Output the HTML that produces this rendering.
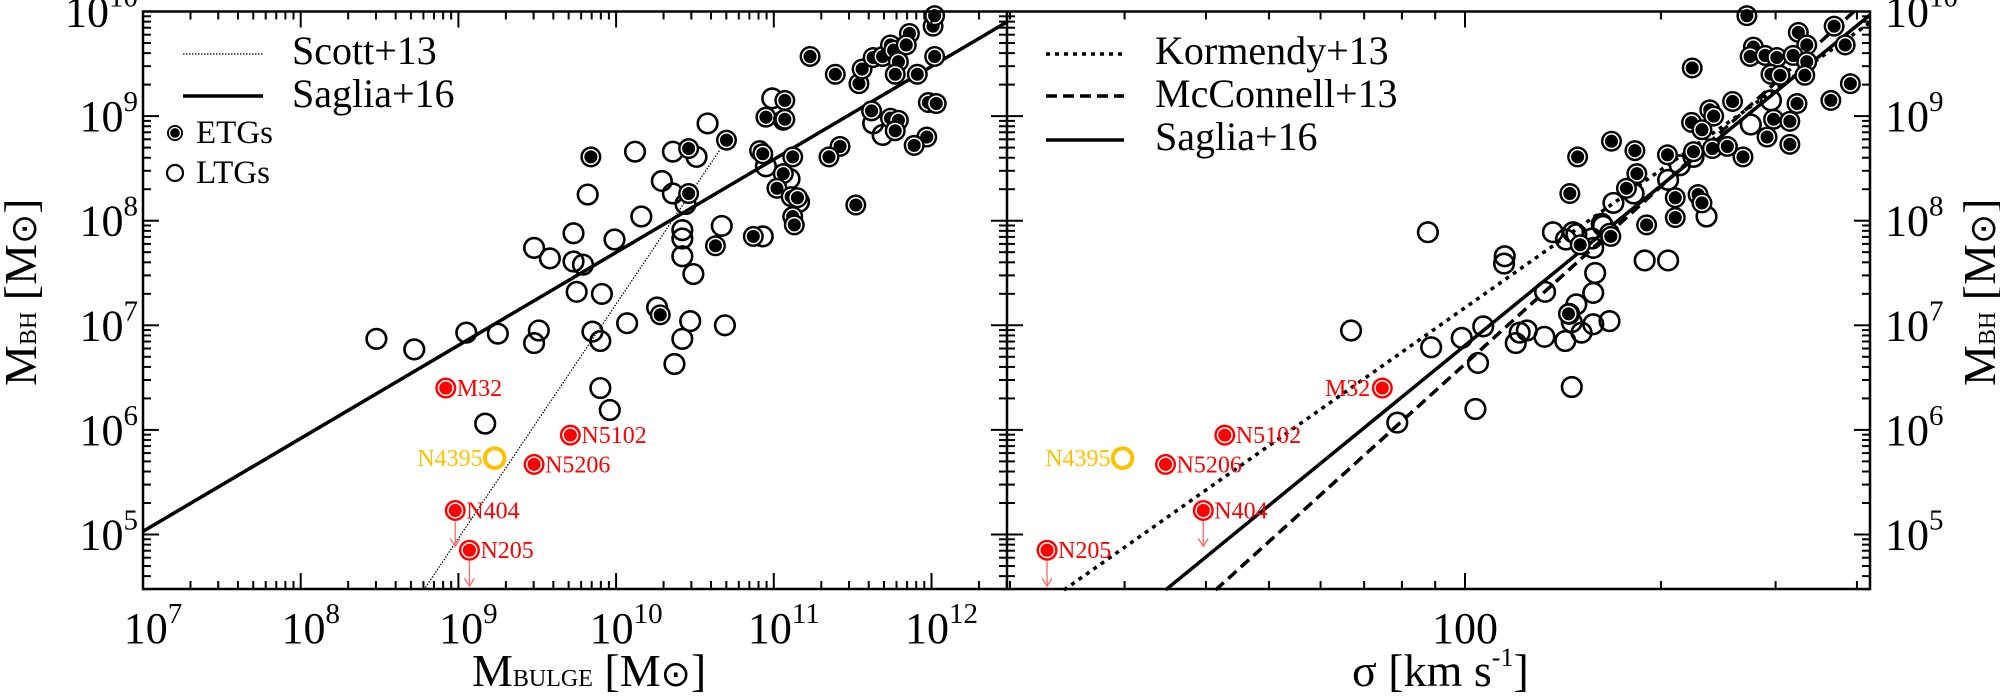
<!DOCTYPE html>
<html><head><meta charset="utf-8"><style>
html,body{margin:0;padding:0;background:#fff;width:2000px;height:698px;overflow:hidden;position:relative}
svg{display:block}
text{font-family:"Liberation Serif","DejaVu Serif",serif;fill:#000}
</style></head><body>
<svg id="fig" width="2000" height="698" viewBox="0 0 2000 698" xmlns="http://www.w3.org/2000/svg" style="position:absolute;left:0;top:0">
<defs>
<clipPath id="clipL"><rect x="143" y="11.5" width="864" height="577.5"/></clipPath>
<clipPath id="clipR"><rect x="1007" y="11.5" width="863" height="577.5"/></clipPath>
<marker id="arr" markerWidth="12" markerHeight="12" refX="9" refY="5" orient="auto" markerUnits="userSpaceOnUse"><path d="M1,0 L9,5 L1,10" fill="none" stroke="#f66" stroke-width="1.3"/></marker>
</defs>
<g id="gL"></g>
<g id="gR"></g>
<g id="gAx"></g>
</svg>
<script>
// ---- data (log10 values) ----
const leftEtgLogM = [11.23,11.39,11.54,11.56,11.63,11.69,11.74,11.76,11.79,11.77,11.86,11.84,11.91,12.01,12.02,12.02,11.98,12.03,11.07,10.95,11.06,11.07,11.62,11.74,11.79,11.77,11.97,11.89,10.46,10.70,10.91,10.93,11.12,11.42,11.35,11.06,11.02,11.11,11.15,11.12,11.13,11.52,10.46,10.87,10.63,9.84,10.28];
const leftEtgLogBH = [9.57,9.40,9.31,9.45,9.56,9.57,9.68,9.63,9.52,9.40,9.79,9.68,9.40,9.86,9.96,9.57,9.13,9.12,9.15,8.99,8.96,8.97,9.05,8.98,8.96,8.86,8.80,8.72,8.69,8.77,8.67,8.64,8.61,8.71,8.61,8.45,8.31,8.23,8.22,8.04,7.96,8.15,8.26,7.85,7.76,8.61,7.10];
const leftLtgLogM = [10.99,10.58,10.12,10.36,10.51,10.29,10.36,11.10,10.95,11.16,10.16,10.44,9.99,10.42,10.42,10.67,10.93,11.63,11.69,10.42,9.82,9.73,9.48,9.58,9.73,9.79,9.75,9.91,10.49,10.26,10.07,10.47,10.42,10.37,9.85,9.90,9.90,9.96,9.51,9.48,9.25,9.05,8.72,8.48,9.17,10.69];
const leftLtgLogBH = [9.17,8.93,8.66,8.66,8.61,8.38,8.26,8.40,8.52,8.18,8.04,8.16,7.82,7.91,7.83,7.95,7.85,8.93,8.82,7.66,8.25,7.88,7.74,7.64,7.61,7.58,7.32,7.30,7.49,7.17,7.02,7.04,6.87,6.63,6.94,6.85,6.40,6.19,6.95,6.83,6.92,6.93,6.77,6.87,6.06,7.00];
const rightEtgLogSig = [2.433,2.512,2.567,2.525,2.584,2.443,2.438,2.461,2.479,2.504,2.525,2.470,2.484,2.522,2.592,2.562,2.510,2.411,2.349,2.376,2.382,2.348,2.364,2.474,2.499,2.464,2.499,2.225,2.261,2.173,2.311,2.351,2.380,2.403,2.427,2.264,2.248,2.161,2.323,2.358,2.364,2.323,2.279,2.222,2.177,2.224,2.159];
const rightEtgLogBH = [9.96,9.80,9.86,9.68,9.68,9.66,9.57,9.58,9.56,9.58,9.52,9.40,9.39,9.39,9.31,9.15,9.12,9.14,9.46,9.06,9.00,8.94,8.87,8.97,8.95,8.80,8.73,8.76,8.67,8.61,8.63,8.66,8.69,8.71,8.61,8.45,8.31,8.26,8.22,8.25,8.17,8.03,7.96,7.88,7.77,7.85,7.11];
const rightLtgLogSig = [2.439,2.470,2.371,2.312,2.330,2.259,2.228,2.210,2.166,2.351,1.943,2.135,2.155,2.171,2.212,2.195,2.197,2.061,2.060,2.200,2.197,2.123,2.276,2.312,2.171,2.160,2.164,2.197,2.222,2.179,2.154,2.122,2.095,2.084,2.078,2.028,1.995,1.948,2.020,2.164,2.016,1.896,1.825];
const rightLtgLogBH = [8.92,9.15,8.04,8.39,8.53,8.26,8.17,7.97,7.89,8.61,7.89,7.89,7.82,7.87,7.95,7.83,7.74,7.66,7.59,7.50,7.31,7.32,7.62,7.62,7.20,7.11,7.03,7.01,7.04,6.93,6.85,6.89,6.95,6.93,6.83,6.99,6.88,6.79,6.64,6.41,6.20,6.07,6.95];
const specialNames = ["M32","N5102","N5206","N404","N205","N4395"];
const specialLogM = [8.92,9.71,9.48,8.98,9.07,9.23];
const specialLogSig = [1.873,1.631,1.540,1.598,1.358,1.474];
const specialLogBH = [6.40,5.95,5.67,5.23,4.85,5.73];
const specialUpper = [false,false,false,true,true,false];
const specialLeftLabelSide = ["right","right","right","right","right","left"];
const specialRightLabelSide = ["left","right","right","right","right","left"];
// relations: [slope, intercept] in log-log
const scottRel = [2.24, 4.47 - 2.24*8.78];
const sagliaMassRel = [0.889, 5.03 - 0.889*7];
const kormendyRel = [4.38, 4.47 - 4.38*1.384];
const mcconnellRel = [5.64, 4.47 - 5.64*1.617];
const sagliaSigRel = [5.08, 4.47 - 5.08*1.540];
const xTicksLeft = [7,8,9,10,11,12];
const yTicks = [5,6,7,8,9,10];

// ---- scales ----
const Y_MIN = 4.47, Y_MAX = 10;
const xL = v => 143 + 157.7*(v-7);
const xR = v => 1465 + 651*(v-2);
const yS = v => 11.5 + 104.6*(10-v);
const NS = "http://www.w3.org/2000/svg";
function mk(tag, parent, attrs){const e=document.createElementNS(NS,tag);for(const k in attrs)e.setAttribute(k,attrs[k]);parent.appendChild(e);return e;}
const gL=document.getElementById('gL'), gR=document.getElementById('gR'), gAx=document.getElementById('gAx');

function relLine(parent, rel, x0, x1, xs, dash, w, name){
  // restrict to region where y within axis range
  const xa = (Y_MIN - rel[1]) / rel[0], xb = (Y_MAX - rel[1]) / rel[0];
  const lo = Math.max(x0, Math.min(xa, xb)), hi = Math.min(x1, Math.max(xa, xb));
  const l=mk('line',parent,{x1:xs(lo),y1:yS(rel[0]*lo+rel[1]),x2:xs(hi),y2:yS(rel[0]*hi+rel[1]),stroke:'#000','stroke-width':w});
  if(dash) l.setAttribute('stroke-dasharray',dash);
  
  
}
relLine(gL, sagliaMassRel, 7, 12.478, xL, null, 3.5, 'saglia16-mass-line');
relLine(gL, scottRel, 7, 10.66, xL, '1.5,1.5', 1.2, 'scott13-line');
relLine(gR, kormendyRel, 1.297, 2.622, xR, '4,5', 3.5, 'kormendy13-line');
relLine(gR, mcconnellRel, 1.297, 2.622, xR, '11,6', 3.5, 'mcconnell13-line');
relLine(gR, sagliaSigRel, 1.297, 2.622, xR, null, 3.5, 'saglia16-sigma-line');

function etg(parent,cx,cy,col){
  const g=mk('g',parent,{});
  mk('circle',g,{cx:cx,cy:cy,r:10.5,fill:col});
  mk('circle',g,{cx:cx,cy:cy,r:7.3,fill:'none',stroke:'#fff','stroke-width':1.5});
  return g;
}
function ltg(parent,cx,cy,col,w){
  const c=mk('circle',parent,{cx:cx,cy:cy,r:9.8,fill:'none',stroke:col,'stroke-width':w||2.6});
  return c;
}
for(let i=0;i<leftLtgLogM.length;i++){
  const c=ltg(gL,xL(leftLtgLogM[i]),yS(leftLtgLogBH[i]),'#000');
  
  
}
for(let i=0;i<leftEtgLogM.length;i++){
  const c=etg(gL,xL(leftEtgLogM[i]),yS(leftEtgLogBH[i]),'#000');
  
  
}
for(let i=0;i<rightLtgLogSig.length;i++){
  const c=ltg(gR,xR(rightLtgLogSig[i]),yS(rightLtgLogBH[i]),'#000');
  
  
}
for(let i=0;i<rightEtgLogSig.length;i++){
  const c=etg(gR,xR(rightEtgLogSig[i]),yS(rightEtgLogBH[i]),'#000');
  
  
}
function special(parent, cx, cy, i, side){
  const isY = specialNames[i]==="N4395";
  const col = isY ? '#ffc000' : '#ff0000';
  let m;
  if(isY){ m=ltg(parent,cx,cy,col,4); }
  else { m=etg(parent,cx,cy,col); }
  
  
  if(specialUpper[i]){
    const a=mk('line',parent,{x1:cx,y1:cy+11,x2:cx,y2:cy+36,stroke:'#f66','stroke-width':1.3,'marker-end':'url(#arr)'});
    
    
  }
  const t=mk('text',parent,{x: side==='right'? cx+11 : cx-12, y: cy+8, 'font-size':24, 'text-anchor': side==='right'?'start':'end', fill:col});
  t.style.fill=col;
  t.textContent=specialNames[i];
  
  
}
for(let i=0;i<specialNames.length;i++){
  special(gL, xL(specialLogM[i]), yS(specialLogBH[i]), i, specialLeftLabelSide[i]);
  special(gR, xR(specialLogSig[i]), yS(specialLogBH[i]), i, specialRightLabelSide[i]);
}

// ---- axes frames ----
const fr=mk('rect',gAx,{x:143,y:11.5,width:1727,height:577.5,fill:'none',stroke:'#000','stroke-width':2.5});


const dv=mk('line',gAx,{x1:1007,y1:11.5,x2:1007,y2:589,stroke:'#000','stroke-width':2.5});


function tk(x1,y1,x2,y2,w){mk('line',gAx,{x1:x1,y1:y1,x2:x2,y2:y2,stroke:'#000','stroke-width':w||2});}
for(let d=7; d<=12; d++){
  for(let m=1;m<=9;m++){
    const v=d+Math.log10(m); if(v>12.48) break;
    const X=xL(v), L=(m===1)?16:8;
    tk(X,589,X,589-L); tk(X,11.5,X,11.5+L);
  }
}
for(const s of [20,30,40,50,60,70,80,90,100,200,300,400]){
  const X=xR(Math.log10(s)), L=(s===100)?16:8;
  tk(X,589,X,589-L); tk(X,11.5,X,11.5+L);
}
for(let d=4; d<=9; d++){
  for(let m=1;m<=9;m++){
    const v=d+Math.log10(m); if(v<4.47) continue;
    const Y=yS(v), L=(m===1)?16:8;
    tk(143,Y,143+L,Y); tk(1870,Y,1870-L,Y);
    tk(1007-L,Y,1007+L,Y);
  }
}
for(const X of [143,1007,1870]){ const L=16, Y=yS(10); tk(X===1870?X-L:X,Y,X===1870?X:X+L,Y); }

function powLabel(x,y,anchor,base,exp,name){
  const t=mk('text',gAx,{x:x,y:y,'font-size':44,'text-anchor':anchor});
  const a=mk('tspan',t,{}); a.textContent=base;
  const b=mk('tspan',t,{'font-size':29,dy:-20}); b.textContent=exp;
  
  
}
for(const d of xTicksLeft){ powLabel(xL(d)+10,643,'middle','10',String(d),'x-tick-label'); }
for(const d of yTicks){
  powLabel(138, yS(d)+15, 'end','10',String(d),'left-y-tick-label');
  powLabel(1885, yS(d)+15, 'start','10',String(d),'right-y-tick-label');
}
const t100=mk('text',gAx,{x:xR(2),y:643,'font-size':44,'text-anchor':'middle'}); t100.textContent='100';


</script>
<svg style="position:absolute;left:0;top:0" width="2000" height="698">
<text x="472" y="686" font-size="46" style="font-family:'Liberation Serif',serif">M<tspan font-size="24">BULGE</tspan> [M<tspan style="font-family:'DejaVu Sans',sans-serif" font-size="36">⊙</tspan>]</text>
<text x="1352" y="686" font-size="46" style="font-family:'Liberation Serif',serif">σ [km s<tspan font-size="26" dy="-20">-1</tspan><tspan dy="20">]</tspan></text>
<text transform="translate(36,386) rotate(-90)" font-size="46" style="font-family:'Liberation Serif',serif">M<tspan font-size="24">BH</tspan> [M<tspan style="font-family:'DejaVu Sans',sans-serif" font-size="36">⊙</tspan>]</text>
<text transform="translate(1995,386) rotate(-90)" font-size="46" style="font-family:'Liberation Serif',serif">M<tspan font-size="24">BH</tspan> [M<tspan style="font-family:'DejaVu Sans',sans-serif" font-size="36">⊙</tspan>]</text>
<g>
<line x1="183" y1="54" x2="263" y2="54" stroke="#000" stroke-width="1.2" stroke-dasharray="1.5,1.5"/>
<text x="292" y="64" font-size="40">Scott+13</text>
<line x1="183" y1="96" x2="263" y2="96" stroke="#000" stroke-width="3.5"/>
<text x="292" y="107" font-size="40">Saglia+16</text>
<circle cx="175" cy="133" r="8" fill="#000"/><circle cx="175" cy="133" r="5.5" fill="none" stroke="#fff" stroke-width="1.3"/>
<text x="196" y="143" font-size="33">ETGs</text>
<circle cx="175" cy="173" r="8" fill="none" stroke="#000" stroke-width="2.2"/>
<text x="196" y="183" font-size="33">LTGs</text>
</g>
<g>
<line x1="1046" y1="54" x2="1124" y2="54" stroke="#000" stroke-width="3.5" stroke-dasharray="4,5"/>
<text x="1155" y="64" font-size="40">Kormendy+13</text>
<line x1="1046" y1="96" x2="1124" y2="96" stroke="#000" stroke-width="3.5" stroke-dasharray="11,6"/>
<text x="1155" y="107" font-size="40">McConnell+13</text>
<line x1="1046" y1="140" x2="1124" y2="140" stroke="#000" stroke-width="3.5"/>
<text x="1155" y="150" font-size="40">Saglia+16</text>
</g>
</svg>
</body></html>
